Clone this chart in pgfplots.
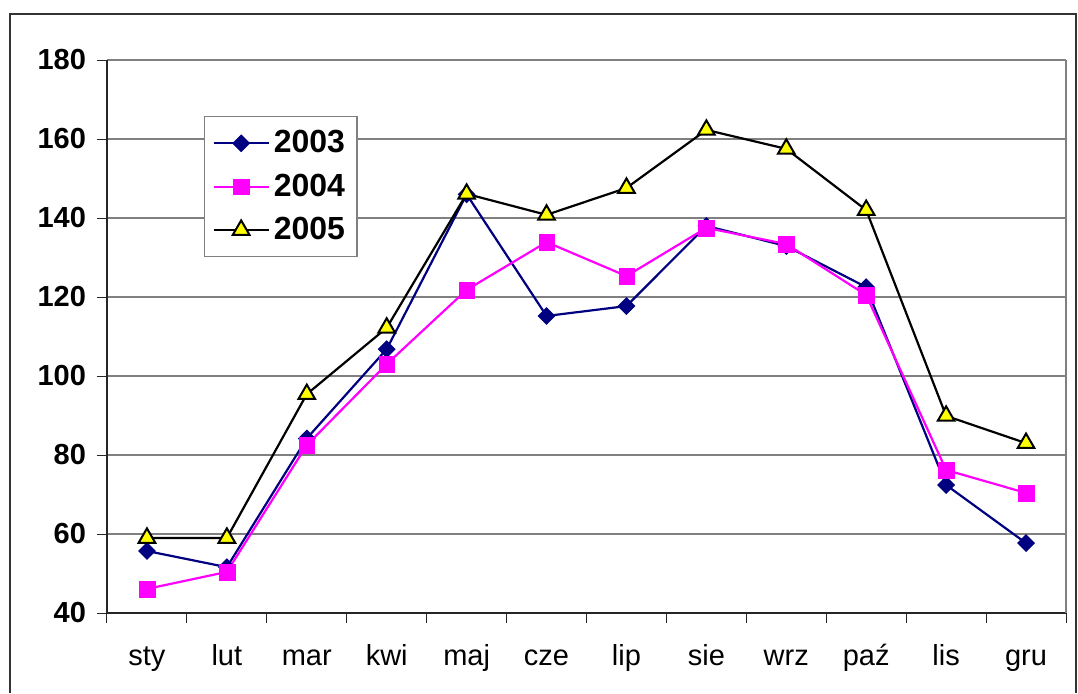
\documentclass[border=0pt]{standalone}
\usepackage{fontspec}
\setmainfont{Liberation Sans}
\usepackage{pgfplots}
\pgfplotsset{compat=1.18}
\definecolor{s2003}{HTML}{000080}
\definecolor{s2004}{HTML}{FF00FF}
\definecolor{tri}{HTML}{FFFF00}
\definecolor{gridgray}{HTML}{808080}
\newcommand{\chartfont}{\fontsize{14.5}{17}\selectfont}
\newcommand{\legfont}{\fontsize{16}{19}\selectfont}

\begin{document}
\begin{tikzpicture}
  \draw[line width=1pt, black!80] (5pt,0pt) -- (5pt,339.5pt) -- (538pt,339.5pt) -- (538pt,0pt);
  \begin{axis}[
      at={(53.5pt,40pt)}, anchor=south west,
      scale only axis,
      width=479.5pt, height=276.5pt,
      xmin=0.5, xmax=12.5,
      ymin=40, ymax=180,
      axis x line*=bottom, axis y line*=left,
      axis line style={black!85, line width=0.6pt},
      xtick={0.5,1.5,...,12.5},
      xticklabels={sty,lut,mar,kwi,maj,cze,lip,sie,wrz,paź,lis,gru,{}},
      xticklabel style={xshift=19.98pt, yshift=-9.5pt, font=\chartfont,
        text height=1.6ex, text depth=0.4ex},
      ytick={40,60,...,180},
      yticklabel style={font=\bfseries\chartfont, xshift=-2pt},
      /pgf/number format/assume math mode=true,
      tick align=outside,
      major tick length=5pt,
      tick style={black!85, line width=0.5pt},
      ymajorgrids,
      grid style={gridgray, line width=0.6pt},
      legend style={at={(0.1011,0.8987)}, anchor=north west,
        draw=gridgray, fill=white, line width=0.6pt,
        font=\bfseries\legfont, row sep=5pt,
        inner xsep=4pt, inner ysep=5pt},
      legend cell align=left,
      legend image code/.code={
        \draw[mark repeat=2, mark phase=2] plot coordinates {(0pt,0pt) (13.75pt,0pt) (27.5pt,0pt)};
      },
      clip=false
    ]
    \addplot[s2003, line width=1.1pt, mark=square*, mark size=2.9pt,
      mark options={rotate=45, fill=s2003, draw=s2003, line width=0.5pt}]
      coordinates {(1,55.7) (2,51.6) (3,84.2) (4,106.8) (5,146.0) (6,115.2)
                   (7,117.7) (8,138.0) (9,132.9) (10,122.5) (11,72.4) (12,57.7)};
    \addplot[s2004, line width=1.1pt, mark=square*, mark size=3.9pt,
      mark options={fill=s2004, draw=s2004, line width=0.1pt}]
      coordinates {(1,46.1) (2,50.4) (3,82.5) (4,103.0) (5,121.8) (6,133.9)
                   (7,125.3) (8,137.5) (9,133.4) (10,120.5) (11,76.2) (12,70.4)};
    \addplot[black, line width=1.1pt, mark=triangle*, mark size=4.8pt,
      mark options={fill=tri, draw=black, line width=1pt}]
      coordinates {(1,59.0) (2,59.0) (3,95.4) (4,112.2) (5,146.1) (6,140.8)
                   (7,147.6) (8,162.3) (9,157.5) (10,142.0) (11,89.9) (12,83.0)};
    \legend{2003,2004,2005}
    \draw[gridgray, line width=1pt] (rel axis cs:1,0) -- (rel axis cs:1,1);
  \end{axis}
  \pgfresetboundingbox
  \path (0pt,0pt) rectangle (539pt,346.5pt);
\end{tikzpicture}
\end{document}
